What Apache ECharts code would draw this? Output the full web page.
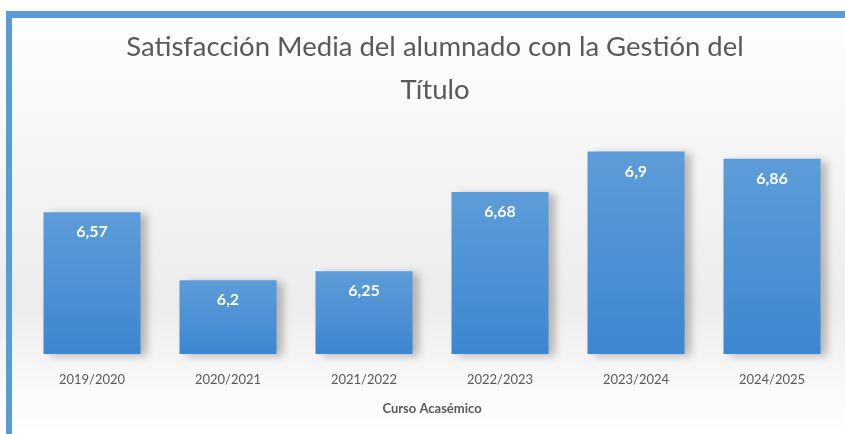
<!DOCTYPE html>
<html style="height: 100%">
<head>
    <meta charset="utf-8">
</head>
<body style="height: 100%; margin: 0">
<div id="container" style="height: 100%"></div>
<script type="text/javascript" src="https://cdn.jsdelivr.net/npm/echarts@6/dist/echarts.min.js"></script>
<script type="text/javascript">
    // datos
    var cursos = ['2019/2020', '2020/2021', '2021/2022', '2022/2023', '2023/2024', '2024/2025'];
    var satisfaccion = [6.57, 6.2, 6.25, 6.68, 6.9, 6.86];

    var dom = document.getElementById("container");
    var myChart = echarts.init(dom);
    var option;

    option = {
        backgroundColor: new echarts.graphic.LinearGradient(0, 0, 0, 1, [
            {offset: 0, color: '#ffffff'},
            {offset: 0.45, color: '#f3f3f3'},
            {offset: 0.7, color: '#ececec'},
            {offset: 0.9, color: '#fafafa'},
            {offset: 1, color: '#ffffff'}
        ]),
        title: {
            text: 'Satisfacción Media del alumnado con la Gestión del\nTítulo',
            left: 430,
            top: 21,
            textAlign: 'center',
            textStyle: {
                fontFamily: 'Lato',
                fontSize: 27.5,
                fontWeight: 'normal',
                color: '#595959',
                lineHeight: 43
            }
        },
        graphic: [
            {type: 'rect', shape: {x: 6, y: 11, width: 839, height: 7}, style: {fill: '#5b9bd5'}},
            {type: 'rect', shape: {x: 6, y: 11, width: 6, height: 423}, style: {fill: '#5b9bd5'}}
        ],
        grid: {
            left: 24,
            right: 5,
            top: 133,
            bottom: 80
        },
        xAxis: {
            type: 'category',
            data: cursos,
            axisLine: {show: false},
            axisTick: {show: false},
            axisLabel: {
                color: '#595959',
                fontSize: 13,
                fontFamily: 'Lato',
                margin: 19
            },
            name: 'Curso Acasémico',
            nameLocation: 'middle',
            nameGap: 48,
            nameTextStyle: {
                color: '#595959',
                fontSize: 13,
                fontWeight: 'bold',
                fontFamily: 'Lato'
            }
        },
        yAxis: {
            type: 'value',
            min: 5.8,
            max: 7,
            show: false,
            splitLine: {show: false}
        },
        series: [{
            data: satisfaccion,
            type: 'bar',
            barWidth: 97,
            itemStyle: {
                color: new echarts.graphic.LinearGradient(0, 0, 0, 1, [
                    {offset: 0, color: '#5d9cd8'},
                    {offset: 1, color: '#3c87d0'}
                ]),
                shadowColor: 'rgba(0,0,0,0.25)',
                shadowBlur: 8,
                shadowOffsetX: 6,
                shadowOffsetY: 2
            },
            label: {
                show: true,
                position: 'insideTop',
                distance: 12,
                color: '#ffffff',
                fontSize: 16,
                fontWeight: 'bold',
                fontFamily: 'Lato',
                formatter: function (p) {
                    return String(p.value).replace('.', ',');
                }
            }
        }]
    };

    myChart.setOption(option);
</script>
</body>
</html>
